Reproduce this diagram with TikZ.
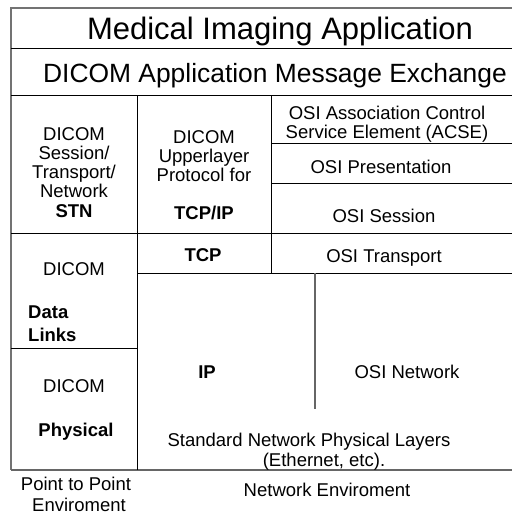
\documentclass[tikz,border=0pt]{standalone}
\usepackage{fontspec}
\setmainfont{Liberation Sans}
\begin{document}
\begin{tikzpicture}[x=1bp,y=-1bp,
  outer/.style={draw=black!55,line width=1.6bp},
  inner/.style={draw=black,line width=1bp},
  soft/.style={draw=black!60,line width=1.2bp},
  txt/.style={inner sep=0pt,anchor=base,font=\fontsize{18.5bp}{19bp}\selectfont},
  btxt/.style={txt,font=\fontsize{18.5bp}{19bp}\selectfont\bfseries},
  ttl/.style={inner sep=0pt,anchor=base,font=\fontsize{31bp}{33bp}\selectfont},
  sub/.style={inner sep=0pt,anchor=base,font=\fontsize{26.4bp}{28bp}\selectfont}]
\useasboundingbox (0,0) rectangle (512,515);
% frame
\draw[outer] (512,8) -- (11,8) -- (11,470);
\draw[soft] (11,470) -- (512,470);
% horizontal rules
\draw[inner] (11,49) -- (512,49);
\draw[inner] (11,96) -- (512,96);
\draw[inner] (271,144) -- (512,144);
\draw[inner] (271,184) -- (512,184);
\draw[inner] (11,233) -- (512,233);
\draw[inner] (137,273) -- (512,273);
\draw[inner] (11,348) -- (137,348);
% vertical rules
\draw[inner] (137,96) -- (137,470);
\draw[inner] (271,96) -- (271,273);
\draw[soft] (315,273) -- (315,409);
% texts
\node[ttl] (t1) at (280,40) {Medical Imaging Application};
\node[sub] (t2) at (275,83) {DICOM Application Message Exchange};
\node[txt] (s1) at (74,141) {DICOM};
\node[txt] (s2) at (74,160) {Session/};
\node[txt] (s3) at (74,179) {Transport/};
\node[txt] (s4) at (74,198) {Network};
\node[btxt] (s5) at (74,217) {STN};
\node[txt] (u1) at (204,144) {DICOM};
\node[txt] (u2) at (204,163) {Upperlayer};
\node[txt] (u3) at (204,182) {Protocol for};
\node[btxt] (u4) at (204,219) {TCP/IP};
\node[txt] (a1) at (387,120) {OSI Association Control};
\node[txt] (a2) at (387,139) {Service Element (ACSE)};
\node[txt] (p1) at (381,174) {OSI Presentation};
\node[txt] (ss) at (384,222) {OSI Session};
\node[btxt] (tc) at (203,261) {TCP};
\node[txt] (ot) at (384,262) {OSI Transport};
\node[txt] (d1) at (74,275) {DICOM};
\node[btxt,anchor=base west] (d2) at (28,318) {Data};
\node[btxt,anchor=base west] (d3) at (28,341) {Links};
\node[txt] (d4) at (74,392) {DICOM};
\node[btxt] (d5) at (76,436) {Physical};
\node[btxt] (ip) at (207,378) {IP};
\node[txt] (on) at (407,378) {OSI Network};
\node[txt] (sn) at (309,446) {Standard Network Physical Layers};
\node[txt] (et) at (324,466) {(Ethernet, etc).};
\node[txt] (pp1) at (76,490) {Point to Point};
\node[txt] (pp2) at (79,511) {Enviroment};
\node[txt] (ne) at (327,496) {Network Enviroment};
\end{tikzpicture}
\end{document}
